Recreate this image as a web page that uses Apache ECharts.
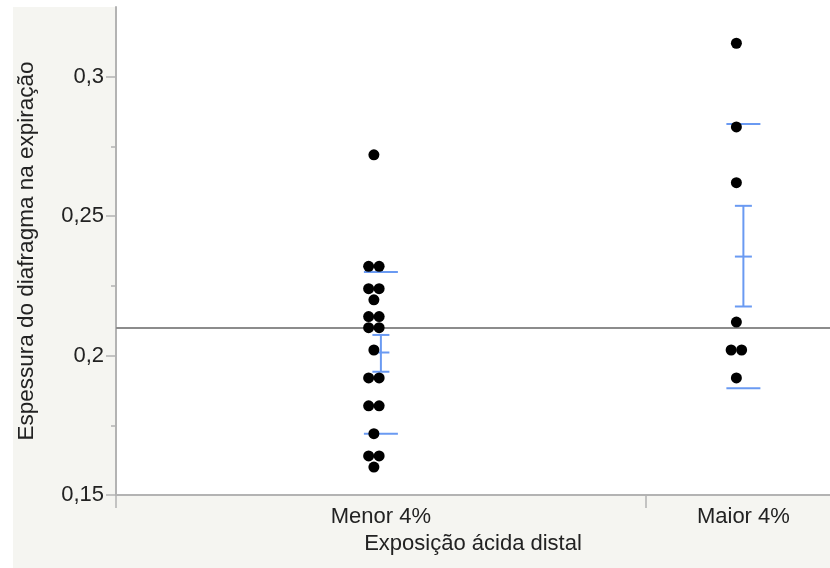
<!DOCTYPE html>
<html><head><meta charset="utf-8">
<script src="https://cdn.jsdelivr.net/npm/echarts@6/dist/echarts.min.js"></script>
<style>html,body{margin:0;padding:0;background:#fff}#c{width:830px;height:568px}</style>
</head><body><div id="c"></div>
<script>
// ---- data ----
const categories = ['Menor 4%', 'Maior 4%'];
const menorValues = [0.272, 0.232, 0.232, 0.224, 0.224, 0.220, 0.214, 0.214, 0.210, 0.210,
                     0.202, 0.192, 0.192, 0.182, 0.182, 0.172, 0.164, 0.164, 0.160];
const maiorValues = [0.312, 0.282, 0.262, 0.212, 0.202, 0.202, 0.192];
const quantileHigh = [0.2300, 0.2830];
const quantileLow = [0.1720, 0.1883];
const meanValues = [0.2011, 0.2355];
const ciHigh = [0.2074, 0.2537];
const ciLow = [0.1942, 0.2176];
const grandMean = 0.2101;
const yTicks = [0.15, 0.2, 0.25, 0.3];
const yMinorTicks = [0.175, 0.225, 0.275];

// ---- layout (axis units on a 0..1 x scale) ----
const bandEdges = [0, 0.742];
const catPos = [0.371, 0.8787];
const groups = [menorValues, maiorValues];

const FONT = "'Liberation Sans', Arial, sans-serif";
const TXT = '#222';
const AX = '#b3b3b3';
const BLUE = '#6a9af2';

// dots with horizontal stacking of equal values
const dotData = [];
groups.forEach((vals, ci) => {
  const counts = {};
  vals.forEach(v => { counts[v] = (counts[v] || 0) + 1; });
  const seen = {};
  vals.forEach(v => {
    const n = counts[v];
    const i = seen[v] || 0; seen[v] = i + 1;
    const off = (i - (n - 1) / 2) * 10.5 - 7;
    dotData.push({ value: [catPos[ci], v], symbolOffset: [off, 0] });
  });
});

const statData = categories.map((c, i) => [catPos[i], quantileLow[i], quantileHigh[i], ciLow[i], meanValues[i], ciHigh[i]]);

function renderStats(params, api) {
  const x = api.value(0);
  const pt = k => api.coord([x, api.value(k)]);
  const qL = pt(1), qH = pt(2), cL = pt(3), m = pt(4), cH = pt(5);
  const cx = qL[0];
  const style = { stroke: BLUE, lineWidth: 2, fill: null };
  const hl = (y, hw) => ({ type: 'line', shape: { x1: cx - hw, y1: y, x2: cx + hw, y2: y }, style });
  return {
    type: 'group',
    children: [
      hl(qL[1], 17), hl(qH[1], 17),
      { type: 'line', shape: { x1: cx, y1: cL[1], x2: cx, y2: cH[1] }, style },
      hl(cL[1], 8.5), hl(cH[1], 8.5), hl(m[1], 8.5)
    ]
  };
}

const fmt = v => String(+v.toFixed(3)).replace('.', ',');

const chart = echarts.init(document.getElementById('c'));
chart.setOption({
  animation: false,
  backgroundColor: '#fff',
  textStyle: { fontFamily: FONT },
  graphic: [{ type: 'rect', z: -10, shape: { x: 13, y: 7, width: 817, height: 561 }, style: { fill: '#f5f5f1' } }],
  grid: { left: 116, right: 0, top: 7, bottom: 73, show: true, backgroundColor: '#fff', borderWidth: 0 },
  xAxis: {
    type: 'value', min: 0, max: 1,
    axisLine: { show: true, onZero: false, lineStyle: { color: AX, width: 2 } },
    axisTick: { show: true, customValues: bandEdges, length: 13, lineStyle: { color: AX, width: 1.5 } },
    axisLabel: { customValues: catPos, formatter: v => categories[catPos.reduce((b, p, i) => Math.abs(p - v) < Math.abs(catPos[b] - v) ? i : b, 0)],
                 fontSize: 22, color: TXT, margin: 11, fontFamily: FONT },
    splitLine: { show: false },
    name: 'Exposição ácida distal', nameLocation: 'middle', nameGap: 38,
    nameTextStyle: { fontSize: 22, color: TXT, fontFamily: FONT }
  },
  yAxis: [{
    type: 'value', min: 0.15, max: 0.325, interval: 0.05, position: 'left',
    axisLine: { show: true, onZero: false, lineStyle: { color: AX, width: 2 } },
    axisTick: { show: true, customValues: yTicks, length: 10, lineStyle: { color: AX, width: 1.5 } },
    axisLabel: { customValues: yTicks, formatter: fmt, fontSize: 22, color: TXT, margin: 12, fontFamily: FONT },
    splitLine: { show: false },
    name: 'Espessura do diafragma na expiração', nameLocation: 'middle', nameGap: 78,
    nameTextStyle: { fontSize: 22.5, color: TXT, fontFamily: FONT }
  }, {
    type: 'value', min: 0.15, max: 0.325, interval: 0.05, position: 'left', offset: 0,
    axisLine: { show: false },
    axisTick: { show: true, customValues: yMinorTicks, length: 5, lineStyle: { color: AX, width: 1.5 } },
    axisLabel: { show: false },
    splitLine: { show: false }
  }],
  series: [{
    type: 'scatter', data: dotData, symbolSize: 11, itemStyle: { color: '#000', opacity: 1 }, z: 5,
    markLine: { silent: true, symbol: 'none', label: { show: false },
                lineStyle: { color: '#8c8c8c', width: 2, type: 'solid' }, data: [{ yAxis: grandMean }] }
  }, {
    type: 'custom', data: statData, renderItem: renderStats, z: 4,
    encode: { x: 0, y: [1, 2, 3, 4, 5] }
  }]
});
</script></body></html>
